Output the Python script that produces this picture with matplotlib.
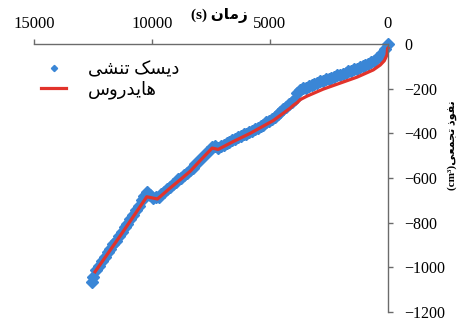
import matplotlib
matplotlib.use('Agg')
import matplotlib.pyplot as plt

# measured cumulative infiltration (tension disc), time in s, volume in cm3
blue_t = [0, 120, 240, 360, 480, 600, 720, 840, 960, 1080, 1200, 1320, 1440, 1560, 1680,
          1800, 1920, 2040, 2160, 2280, 2400, 2520, 2640, 2760, 2880, 3000, 3120, 3240,
          3360, 3480, 3600, 3720, 3840, 3960, 4080, 4200, 4320, 4440, 4560, 4680, 4800,
          4920, 5040, 5160, 5280, 5400, 5520, 5640, 5760, 5880, 6000, 6120, 6240, 6360,
          6480, 6600, 6720, 6840, 6960, 7080, 7200, 7320, 7440, 7560, 7680, 7800, 7920,
          8040, 8160, 8280, 8400, 8520, 8640, 8760, 8880, 9000, 9120, 9240, 9360, 9480,
          9600, 9720, 9840, 9960, 10080, 10200, 10320, 10440, 10560, 10680, 10800, 10920,
          11040, 11160, 11280, 11400, 11520, 11640, 11760, 11880, 12000, 12120, 12240,
          12360, 12480, 12540]
blue_v = [0, -24, -40, -55, -64, -74, -80, -88, -92, -100, -104, -111, -114, -121, -123,
          -130, -133, -139, -141, -147, -150, -156, -158, -165, -167, -174, -177, -184,
          -187, -195, -199, -208, -218, -245, -260, -270, -284, -291, -305, -313, -328,
          -335, -347, -351, -361, -365, -375, -379, -389, -393, -402, -405, -414, -417,
          -427, -430, -440, -443, -453, -457, -465, -457, -463, -474, -485, -502, -511,
          -529, -537, -554, -564, -578, -587, -601, -606, -619, -625, -642, -649, -664,
          -671, -686, -687, -688, -677, -664, -682, -699, -726, -744, -767, -784,
          -804, -821, -842, -859, -880, -895, -917, -933, -954, -971, -994,
          -1014, -1044, -1064]

# hydrus simulation
red_t = [0, 17, 42, 157, 327, 623, 1302, 2023, 2744, 3422, 3719, 3847, 4016, 4143, 4864,
         5840, 6561, 7197, 7451, 7960, 8384, 8808, 9233, 9771, 10221, 11353, 12413]
red_v = [-18, -20, -49, -75, -94, -116, -148, -175, -202, -233, -249, -262, -275, -287, -343,
         -400, -437, -472, -466, -522, -570, -608, -645, -694, -684, -860, -1020]

x_ticks = [15000, 10000, 5000, 0]
y_ticks = [0, -200, -400, -600, -800, -1000, -1200]

# persian shaping by hand (matplotlib has no bidi / joining)
# forms: isolated, final, initial, medial
FORMS = {
    'ا': ('\uFE8D', '\uFE8E', None, None),
    'د': ('\uFEA9', '\uFEAA', None, None),
    'ذ': ('\uFEAB', '\uFEAC', None, None),
    'ر': ('\uFEAD', '\uFEAE', None, None),
    'ز': ('\uFEAF', '\uFEB0', None, None),
    'و': ('\uFEED', '\uFEEE', None, None),
    'ت': ('\uFE95', '\uFE96', '\uFE97', '\uFE98'),
    'ج': ('\uFE9D', '\uFE9E', '\uFE9F', '\uFEA0'),
    'س': ('\uFEB1', '\uFEB2', '\uFEB3', '\uFEB4'),
    'ش': ('\uFEB5', '\uFEB6', '\uFEB7', '\uFEB8'),
    'ع': ('\uFEC9', '\uFECA', '\uFECB', '\uFECC'),
    'ف': ('\uFED1', '\uFED2', '\uFED3', '\uFED4'),
    'م': ('\uFEE1', '\uFEE2', '\uFEE3', '\uFEE4'),
    'ن': ('\uFEE5', '\uFEE6', '\uFEE7', '\uFEE8'),
    'ه': ('\uFEE9', '\uFEEA', '\uFEEB', '\uFEEC'),
    'ک': ('\uFB8E', '\uFB8F', '\uFB90', '\uFB91'),
    'ی': ('\uFBFC', '\uFBFD', '\uFBFE', '\uFBFF'),
}


def fa(s):
    out = []
    for i, ch in enumerate(s):
        if ch not in FORMS:
            out.append(ch)
            continue
        prev = s[i - 1] if i > 0 else ''
        nxt = s[i + 1] if i + 1 < len(s) else ''
        f = FORMS[ch]
        after = prev in FORMS and FORMS[prev][2] is not None
        before = f[2] is not None and nxt in FORMS
        if after and before:
            out.append(f[3])
        elif after:
            out.append(f[1])
        elif before:
            out.append(f[2])
        else:
            out.append(f[0])
    return ''.join(reversed(out))


FONTS = ['Liberation Serif', 'DejaVu Sans']
AXCOL = '#6b6b6b'

fig = plt.figure(figsize=(4.59, 3.20), dpi=100)
ax = fig.add_axes([34 / 459, 1 - 312 / 320, 354 / 459, 268 / 320])

ax.plot(blue_t, blue_v, linestyle='none', marker='D', markersize=6.3,
        color='#3a86d6', clip_on=False, label=fa('دیسک تنشی'))
ax.plot(red_t, red_v, color='#e2332b', linewidth=2.3, clip_on=False,
        label=fa('هایدروس'))

ax.set_xlim(15000, 0)
ax.set_ylim(-1200, 0)
ax.set_xticks(x_ticks)
ax.set_yticks(y_ticks)

for s in ['left', 'bottom']:
    ax.spines[s].set_visible(False)
for s in ['top', 'right']:
    ax.spines[s].set_color(AXCOL)
    ax.spines[s].set_linewidth(1.0)

ax.xaxis.tick_top()
ax.yaxis.tick_right()
ax.tick_params(axis='x', direction='out', length=3.5, width=1.0, color=AXCOL, pad=5.5,
               labelsize=12)
ax.tick_params(axis='y', direction='out', length=3.5, width=1.0, color=AXCOL, pad=8,
               labelsize=11.5)
for lab in ax.get_xticklabels() + ax.get_yticklabels():
    lab.set_family(FONTS)

ax.xaxis.set_label_position('top')
ax.set_xlabel('(s) ' + fa('زمان'), family=FONTS, fontsize=11, fontweight='bold')
ax.xaxis.set_label_coords(0.523, 1.108)
ax.xaxis.label.set_va('center')

ax.yaxis.set_label_position('right')
ax.set_ylabel('(cm³)' + fa('نفوذ تجمعی'), family=FONTS, fontsize=8, fontweight='bold',
              rotation=90)
ax.yaxis.set_label_coords(1.18, 0.623)
ax.yaxis.label.set_va('center')
ax.yaxis.label.set_ha('center')
ax.yaxis.label.set_rotation_mode('default')

leg = ax.legend(loc='upper left', bbox_to_anchor=(0.02, 0.935), frameon=False,
                borderpad=0, borderaxespad=0, handlelength=1.4, handletextpad=1.2,
                labelspacing=0.1, markerscale=0.5, prop={'family': FONTS, 'size': 13})

fig.savefig('out.png', dpi=100)
